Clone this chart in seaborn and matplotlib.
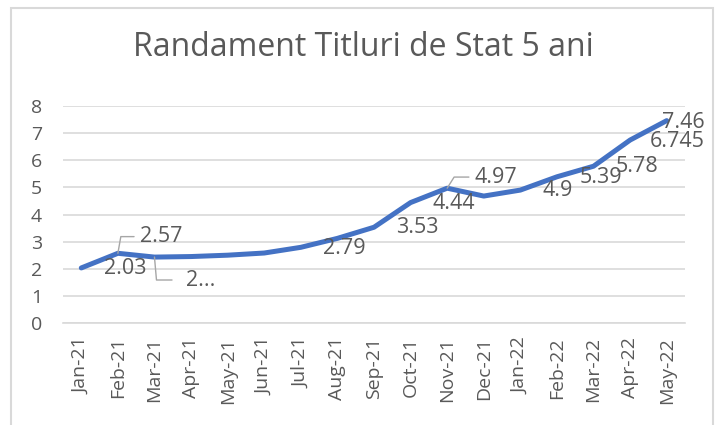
import matplotlib.pyplot as plt
import seaborn as sns
import pandas as pd
from matplotlib.patches import Rectangle

luni = ['Jan-21', 'Feb-21', 'Mar-21', 'Apr-21', 'May-21', 'Jun-21', 'Jul-21', 'Aug-21',
        'Sep-21', 'Oct-21', 'Nov-21', 'Dec-21', 'Jan-22', 'Feb-22', 'Mar-22', 'Apr-22', 'May-22']
randament = [2.03, 2.57, 2.43, 2.45, 2.50, 2.58, 2.79, 3.12, 3.53, 4.44, 4.97, 4.68,
             4.90, 5.39, 5.78, 6.745, 7.46]
etichete = ['2.03', '2.57', '2...', None, None, None, '2.79', None, '3.53', '4.44', '4.97',
            None, '4.9', '5.39', '5.78', '6.745', '7.46']

GRI = '#595959'
LINIE = '#D9D9D9'

sns.set_style('white')
plt.rcParams['font.family'] = ['Open Sans', 'DejaVu Sans']

df = pd.DataFrame({'luna': luni, 'randament': randament})

fig = plt.figure(figsize=(7.19, 4.25), dpi=100)
ax = fig.add_axes([63 / 719, 1 - 323 / 425, (685 - 63) / 719, (323 - 106) / 425])

sns.lineplot(data=df, x='luna', y='randament', ax=ax, sort=False, color='#4472C4',
             linewidth=3.6, solid_capstyle='round', solid_joinstyle='round', zorder=3)

# pozitii etichete (offset in puncte) si linii de legatura
offset = {1: (16, 12), 2: (23, -16.5), 10: (20, 8), 15: (14, -1.3), 16: (-3.6, -1.5)}
legatura = {1: ('angle,angleA=0,angleB=80', 2), 2: ('angle,angleA=0,angleB=-85', 8),
            10: ('angle,angleA=0,angleB=58', 2)}

for i, (v, t) in enumerate(zip(randament, etichete)):
    if t is None:
        continue
    dx, dy = offset.get(i, (16, -0.5))
    arrow = None
    if i in legatura:
        cs, sh = legatura[i]
        arrow = dict(arrowstyle='-', color='#A6A6A6', lw=1, connectionstyle=cs,
                     relpos=(0, 0.5), shrinkA=sh, shrinkB=0)
    ax.annotate(t, xy=(i, v), xytext=(dx, dy), textcoords='offset points',
                ha='left', va='center', fontsize=15.5, color=GRI, arrowprops=arrow, zorder=4)

ax.set_xlim(-0.5, len(luni) - 0.5)
ax.set_ylim(0, 8)
ax.set_yticks(range(0, 9))
ax.set_xticks(range(len(luni)))
ax.set_xticklabels(luni, rotation=90)
ax.set_xticks([i - 0.5 for i in range(len(luni) + 1)], minor=True)
ax.tick_params(axis='x', which='major', length=0, pad=10, labelsize=14, labelcolor=GRI)
ax.tick_params(axis='x', which='minor', length=4.5, width=1.2, color=LINIE, direction='out')
ax.tick_params(axis='y', length=0, pad=15, labelsize=14, labelcolor=GRI)
ax.set_xlabel('')
ax.set_ylabel('')
ax.grid(axis='y', color=LINIE, linewidth=1.2)
ax.set_axisbelow(True)
for s in ['top', 'right', 'left']:
    ax.spines[s].set_visible(False)
ax.spines['bottom'].set_color(LINIE)
ax.spines['bottom'].set_linewidth(1.2)

fig.text(363 / 719, 1 - 48 / 425, 'Randament Titluri de Stat 5 ani', ha='center', va='center',
         fontsize=23, color=GRI)
fig.add_artist(Rectangle((11 / 719, -0.02), (713 - 11) / 719, 1.02 - 8 / 425, fill=False,
                         edgecolor=LINIE, linewidth=1.5, transform=fig.transFigure))

fig.savefig('out.png', dpi=100)
